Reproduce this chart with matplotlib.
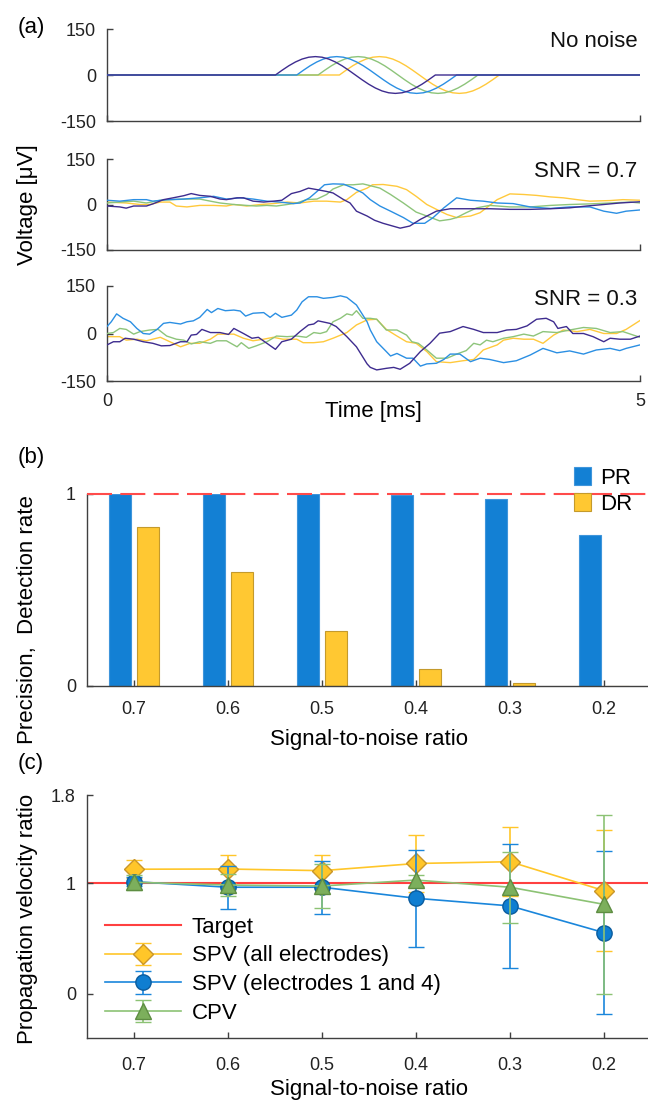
import numpy as np
import matplotlib
matplotlib.use('Agg')
import matplotlib.pyplot as plt

plt.rcParams['font.family'] = ['Liberation Sans', 'DejaVu Sans']
plt.rcParams['axes.unicode_minus'] = False

# ---- panel (a): electrode traces, electrodes 1..4 ----
trace_colors = ['#3E2C8F', '#2B8FE3', '#8DC47A', '#FFC93C']

# no noise: one template wave, shifted per electrode
onsets = [1.58, 1.78, 1.98, 2.18]
wave_dur = 1.5
wave_v = [0, 15.5, 30, 42.4, 52, 58, 60, 58, 52, 42.4, 30, 15.5, 0,
          -15.5, -30, -42.4, -52, -58, -60, -58, -52, -42.4, -30, -15.5, 0]

# SNR = 0.7
t07_e1 = [0, 0.12, 0.18, 0.25, 0.37, 0.43, 0.53, 0.62, 0.72, 0.79, 0.87, 0.97, 1.06, 1.12, 1.22, 1.28,
          1.37, 1.47, 1.56, 1.64, 1.73, 1.81, 1.89, 1.97, 2.06, 2.12, 2.22, 2.28, 2.34, 2.44, 2.51,
          2.59, 2.75, 2.84, 2.94, 3.09, 3.22, 3.41, 3.59, 3.78, 3.97, 4.16, 4.34, 4.50, 4.66, 4.81, 5.0]
v07_e1 = [-5, -8, -12, -5, -5, 2, 16, 22, 29, 36, 30, 27, 18, 16, 22, 22,
          11, 8, 11, 14, 36, 43, 54, 49, 43, 38, 16, 5, -22, -38, -52,
          -62, -78, -71, -49, -22, -14, -14, -14, -16, -16, -14, -11, -5, 0, 5, 9]
t07_e2 = [0, 0.12, 0.25, 0.37, 0.43, 0.56, 0.72, 0.87, 1.00, 1.12, 1.25, 1.37, 1.50, 1.62, 1.75, 1.81,
          1.90, 1.97, 2.04, 2.12, 2.22, 2.31, 2.40, 2.47, 2.56, 2.66, 2.78, 2.87, 2.98, 3.06, 3.16,
          3.28, 3.41, 3.53, 3.66, 3.81, 3.97, 4.16, 4.34, 4.53, 4.66, 4.78, 4.87, 5.0]
v07_e2 = [14, 11, 16, 16, 11, 16, 18, 22, 27, 18, 22, 18, 11, 8, 3, 5,
          22, 43, 65, 68, 67, 54, 38, 16, -5, -22, -43, -62, -62, -43, -11,
          22, 14, 11, 5, 3, -8, -13, -8, -8, -22, -29, -22, -18]
t07_e3 = [0, 0.12, 0.25, 0.37, 0.50, 0.62, 0.75, 0.87, 0.97, 1.06, 1.19, 1.31, 1.40, 1.50, 1.59, 1.69,
          1.78, 1.87, 1.97, 2.06, 2.12, 2.22, 2.31, 2.40, 2.47, 2.56, 2.66, 2.78, 2.90, 3.00, 3.12,
          3.22, 3.28, 3.37, 3.47, 3.59, 3.78, 3.97, 4.16, 4.34, 4.53, 4.72, 4.91, 5.0]
v07_e3 = [5, 8, 11, 5, 14, 16, 18, 18, 11, 5, 0, -3, -5, -3, -5, 0,
          5, 16, 18, 33, 51, 65, 65, 68, 62, 54, 33, 5, -25, -38, -54,
          -49, -43, -27, -11, -3, -8, -8, -3, 0, 2, 5, 8, 5]
t07_e4 = [0, 0.18, 0.31, 0.40, 0.50, 0.59, 0.65, 0.75, 0.87, 1.00, 1.12, 1.19, 1.31, 1.44, 1.56, 1.69,
          1.81, 1.94, 2.06, 2.19, 2.25, 2.34, 2.44, 2.49, 2.59, 2.72, 2.81, 2.90, 3.00, 3.09, 3.19,
          3.28, 3.41, 3.50, 3.59, 3.66, 3.78, 3.91, 4.03, 4.16, 4.28, 4.41, 4.53, 4.72, 4.84, 5.0]
v07_e4 = [8, 5, 0, 0, 8, 8, -5, -8, -3, -3, -5, 0, -5, 0, 3, 8,
          5, 11, 11, 8, 16, 40, 54, 65, 66, 60, 49, 27, 0, -16, -33,
          -43, -38, -27, -3, 16, 35, 33, 30, 25, 22, 16, 11, 13, 16, 14]

# SNR = 0.3
t03_e1 = [0, 0.06, 0.12, 0.17, 0.25, 0.34, 0.43, 0.51, 0.59, 0.69, 0.75, 0.79, 0.84, 0.89, 0.97, 1.06,
          1.14, 1.19, 1.28, 1.36, 1.42, 1.50, 1.58, 1.64, 1.73, 1.81, 1.89, 1.94, 1.98, 2.09, 2.15,
          2.25, 2.34, 2.44, 2.47, 2.53, 2.62, 2.69, 2.75, 2.84, 2.94, 3.03, 3.12, 3.22, 3.34, 3.44,
          3.53, 3.66, 3.75, 3.84, 3.94, 4.03, 4.12, 4.19, 4.23, 4.31, 4.37, 4.47, 4.56, 4.66, 4.72,
          4.81, 4.91, 5.0]
v03_e1 = [-36, -26, -26, -15, -18, -26, -31, -39, -38, -26, -26, -5, -3, 13, 3, 3,
          -3, 16, 0, -15, -12, -31, -50, -26, -18, 6, 27, 30, 40, 32, 22,
          -10, -42, -96, -107, -115, -110, -107, -113, -94, -57, -31, 1, 6, 22, 13,
          3, 3, 11, 13, 24, 45, 48, 37, 16, 22, 0, 0, -10, -26, -15,
          -18, -18, -8]
t03_e2 = [0, 0.04, 0.09, 0.15, 0.22, 0.28, 0.34, 0.40, 0.47, 0.53, 0.59, 0.69, 0.75, 0.81, 0.87, 0.94,
          0.98, 1.04, 1.11, 1.19, 1.25, 1.30, 1.37, 1.47, 1.53, 1.58, 1.64, 1.73, 1.78, 1.83, 1.89,
          1.97, 2.03, 2.12, 2.19, 2.25, 2.34, 2.44, 2.47, 2.53, 2.62, 2.66, 2.72, 2.81, 2.87, 2.94,
          3.00, 3.09, 3.16, 3.22, 3.31, 3.41, 3.50, 3.59, 3.72, 3.84, 3.97, 4.09, 4.22, 4.34, 4.47,
          4.59, 4.72, 4.81, 4.87, 5.0]
v03_e2 = [22, 37, 62, 48, 37, 16, 0, -2, 13, 32, 35, 30, 37, 40, 51, 76,
          66, 79, 72, 74, 71, 55, 64, 66, 51, 64, 51, 58, 74, 100, 116,
          116, 111, 114, 119, 114, 90, 37, 11, -26, -57, -71, -63, -78, -78, -103,
          -96, -94, -82, -65, -65, -89, -78, -82, -92, -86, -68, -47, -61, -55, -65,
          -52, -47, -54, -47, -36]
t03_e3 = [0, 0.06, 0.12, 0.18, 0.25, 0.31, 0.40, 0.48, 0.56, 0.65, 0.72, 0.79, 0.87, 0.97, 1.03, 1.12,
          1.22, 1.26, 1.33, 1.40, 1.50, 1.59, 1.69, 1.78, 1.87, 1.94, 2.00, 2.06, 2.12, 2.19, 2.25,
          2.30, 2.34, 2.40, 2.47, 2.53, 2.62, 2.72, 2.81, 2.86, 2.92, 3.00, 3.09, 3.19, 3.28, 3.37,
          3.44, 3.50, 3.56, 3.62, 3.72, 3.81, 3.91, 4.00, 4.09, 4.22, 4.34, 4.47, 4.59, 4.72, 4.84, 5.0]
v03_e3 = [0, 3, 16, 13, -2, 6, 11, 13, -8, -18, -21, -33, -26, -31, -23, -23,
          -42, -29, -47, -39, -26, -8, -10, -8, -12, 3, 0, 6, 37, 48, 62,
          58, 72, 48, 48, 45, 11, 11, -5, -26, -31, -52, -78, -78, -65, -54,
          -31, -36, -21, -26, -15, -10, -2, -8, 6, 3, 11, 19, 16, 3, 6, -12]
t03_e4 = [0, 0.12, 0.18, 0.28, 0.37, 0.50, 0.59, 0.69, 0.78, 0.87, 0.97, 1.04, 1.19, 1.28, 1.37, 1.47,
          1.56, 1.65, 1.78, 1.84, 1.94, 2.03, 2.12, 2.25, 2.34, 2.44, 2.53, 2.62, 2.72, 2.81, 2.90,
          3.00, 3.09, 3.22, 3.34, 3.44, 3.53, 3.66, 3.72, 3.81, 3.91, 4.00, 4.09, 4.19, 4.28, 4.41,
          4.53, 4.66, 4.78, 4.87, 5.0]
v03_e4 = [-10, -10, -21, -18, -23, -12, -26, -42, -31, -31, -18, -2, -2, -15, -23, -18,
          -12, -18, -18, -29, -29, -26, -15, 3, 27, 43, 45, 13, -8, -26, -31,
          -57, -89, -92, -86, -82, -52, -36, -21, -15, -18, -18, -31, -5, 11, 6,
          13, 0, 0, 13, 41]

# ---- panel (b) ----
snr_labels = ['0.7', '0.6', '0.5', '0.4', '0.3', '0.2']
pr = [1.0, 1.0, 1.0, 0.995, 0.974, 0.786]
dr = [0.826, 0.592, 0.287, 0.09, 0.016, 0.002]

# ---- panel (c) ----
spv_all = [1.128, 1.13, 1.115, 1.18, 1.196, 0.934]
spv_all_err = [0.08, 0.13, 0.145, 0.26, 0.31, 0.55]
spv_14 = [1.015, 0.965, 0.965, 0.865, 0.796, 0.554]
spv_14_err = [0.04, 0.195, 0.24, 0.44, 0.56, 0.74]
cpv = [1.01, 0.985, 0.976, 1.03, 0.965, 0.81]
cpv_err = [0.07, 0.1, 0.2, 0.05, 0.32, 0.81]

W, H = 648, 1101
fig = plt.figure(figsize=(W / 100, H / 100), dpi=100)

def px_axes(left, top, right, bottom):
    return fig.add_axes([left / W, 1 - bottom / H, (right - left) / W, (bottom - top) / H])

spine_c = '#404040'
FS_LAB = 16
FS_TICK = 13

def style(ax):
    for s in ['top', 'right']:
        ax.spines[s].set_visible(False)
    for s in ['left', 'bottom']:
        ax.spines[s].set_color(spine_c)
        ax.spines[s].set_linewidth(1.0)
    ax.tick_params(direction='in', length=4, width=1, color=spine_c,
                   labelsize=FS_TICK, labelcolor='#222222')

# panel (a)
a_boxes = [(29, 121), (159, 250), (286, 381)]
noisy = [
    None,
    [(t07_e1, v07_e1), (t07_e2, v07_e2), (t07_e3, v07_e3), (t07_e4, v07_e4)],
    [(t03_e1, v03_e1), (t03_e2, v03_e2), (t03_e3, v03_e3), (t03_e4, v03_e4)],
]
titles = ['No noise', 'SNR = 0.7', 'SNR = 0.3']
wave_t = np.linspace(0, wave_dur, len(wave_v))
for i, (top, bot) in enumerate(a_boxes):
    ax = px_axes(107, top, 640, bot)
    style(ax)
    for e in [3, 2, 1, 0]:
        if i == 0:
            tt = [0, onsets[e]] + list(onsets[e] + wave_t) + [5]
            vv = [0, 0] + wave_v + [0]
        else:
            tt, vv = noisy[i][e]
        ax.plot(tt, vv, color=trace_colors[e], lw=1.0, zorder=2 + (3 - e))
    ax.set_xlim(0, 5)
    ax.set_ylim(-150, 150)
    ax.set_yticks([-150, 0, 150])
    ax.set_xticks([0, 5])
    ax.tick_params(axis='y', pad=8)
    ax.tick_params(axis='x', pad=9)
    if i < 2:
        ax.set_xticklabels([])
    ax.text(0.995, 0.86, titles[i], transform=ax.transAxes, ha='right', va='center',
            fontsize=FS_LAB, color='#111111')

fig.text(18 / W, 1 - 27 / H, '(a)', fontsize=FS_LAB, ha='left', va='center')
fig.text(28 / W, 1 - 205 / H, 'Voltage [\u03bcV]', fontsize=FS_LAB, rotation=90,
         ha='center', va='center')
fig.text(373 / W, 1 - 411 / H, 'Time [ms]', fontsize=FS_LAB, ha='center', va='center')

# panel (b)
x = np.arange(1, 7)
axb = px_axes(87, 494, 651, 686)
style(axb)
bw = 0.235
axb.bar(x - 0.145, pr, bw, color='#1380D4', edgecolor='#3F95DB', lw=0.8, label='PR', zorder=2)
axb.bar(x + 0.145, dr, bw, color='#FFC832', edgecolor='#C49A2C', lw=0.8, label='DR', zorder=2)
axb.axhline(1, color='#FF4B4B', lw=1.5, dashes=(12, 4), zorder=3, clip_on=False)
axb.set_xlim(0.5, 6.5)
axb.set_ylim(0, 1)
axb.set_yticks([0, 1])
axb.set_yticklabels(['0', '1'])
axb.set_xticks(x)
axb.set_xticklabels(snr_labels)
axb.tick_params(axis='y', pad=8)
axb.tick_params(axis='x', pad=11)
axb.legend(loc='upper right', bbox_to_anchor=(0.995, 1.22), frameon=False, fontsize=FS_LAB,
           handlelength=0.8, handleheight=0.85, handletextpad=0.4, labelspacing=0.2,
           borderpad=0.2)

fig.text(18 / W, 1 - 457 / H, '(b)', fontsize=FS_LAB, ha='left', va='center')
fig.text(28 / W, 1 - 620 / H, 'Precision,  Detection rate', fontsize=FS_LAB, rotation=90,
         ha='center', va='center')
fig.text(369 / W, 1 - 740 / H, 'Signal-to-noise ratio', fontsize=FS_LAB, ha='center', va='center')

# panel (c)
axc = px_axes(87, 795, 651, 1038)
style(axc)
axc.axhline(1, color='#FF4040', lw=1.5, zorder=1, label='Target')
ms = 11
axc.errorbar(x, spv_all, yerr=spv_all_err, color='#FFC629', lw=1.2, capsize=5.5, capthick=1.2,
             marker='D', ms=ms * 0.88, mfc='#FFC629', mec='#C9962A', mew=1.0,
             label='SPV (all electrodes)', zorder=3)
axc.errorbar(x, spv_14, yerr=spv_14_err, color='#1A86DB', lw=1.2, capsize=5.5, capthick=1.2,
             marker='o', ms=ms, mfc='#0F7ED1', mec='#0B5C9E', mew=1.0,
             label='SPV (electrodes 1 and 4)', zorder=4)
axc.errorbar(x, cpv, yerr=cpv_err, color='#8CC274', lw=1.2, capsize=5.5, capthick=1.2,
             marker='^', ms=ms * 1.05, mfc='#7CAF5C', mec='#5E8D42', mew=1.0,
             label='CPV', zorder=5)
axc.set_xlim(0.5, 6.5)
axc.set_ylim(-0.4, 1.8)
axc.set_yticks([0, 1, 1.8])
axc.set_yticklabels(['0', '1', '1.8'])
axc.set_xticks(x)
axc.set_xticklabels(snr_labels)
axc.tick_params(axis='y', pad=8)
axc.tick_params(axis='x', pad=14)
axc.legend(loc='lower left', bbox_to_anchor=(0.02, 0.03), borderaxespad=0, frameon=False,
           fontsize=FS_LAB, handlelength=3.4, handletextpad=0.5, labelspacing=0.35,
           borderpad=0.3)

fig.text(18 / W, 1 - 763 / H, '(c)', fontsize=FS_LAB, ha='left', va='center')
fig.text(28 / W, 1 - 919 / H, 'Propagation velocity ratio', fontsize=FS_LAB, rotation=90,
         ha='center', va='center')
fig.text(369 / W, 1 - 1090 / H, 'Signal-to-noise ratio', fontsize=FS_LAB, ha='center', va='center')

fig.savefig('out.png', dpi=100)
